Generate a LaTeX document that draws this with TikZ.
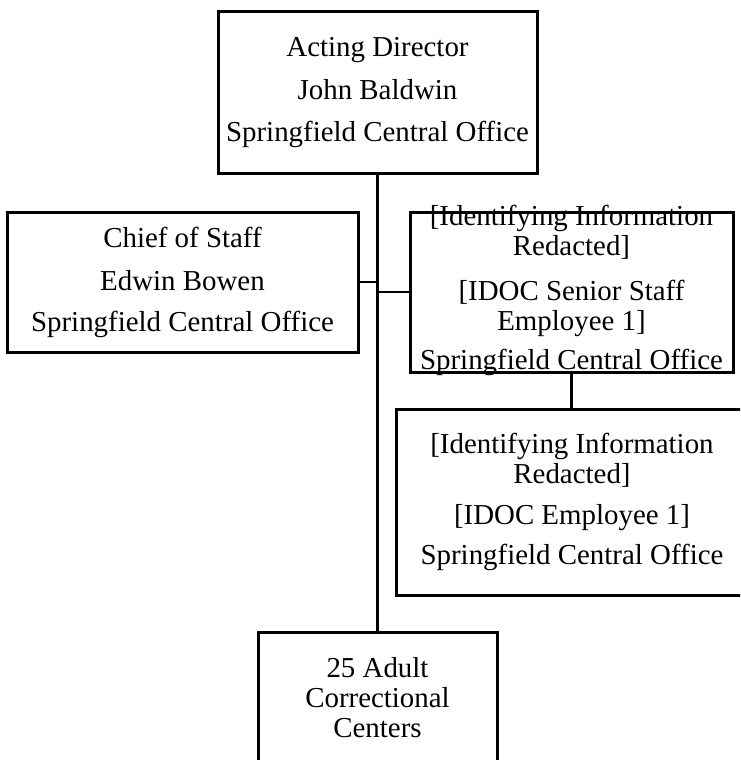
\documentclass[tikz,border=0pt]{standalone}
\usepackage{fontspec}
\setmainfont{Liberation Serif}
\usetikzlibrary{positioning}
\tikzset{
    orgbox/.style = {rectangle, line width=3pt, draw=black, align=center, inner sep=0pt, font=\fontsize{28.9}{30}\selectfont, text=black},
    orgtext/.style = {align=center, inner sep=0pt, font=\fontsize{28.9}{30}\selectfont, text=black},
    edgen/.style = {-, line width=2.6pt, black}
}
\begin{document}
\begin{tikzpicture}[x=1pt, y=-1pt]
\useasboundingbox (0,0) rectangle (740,760);
\clip (0,0) rectangle (740,760);
\node[orgbox, minimum width=319pt, minimum height=161pt] at (377.5, 92.5) (director) {Acting Director\\[13pt] John Baldwin\\[12pt] Springfield Central Office};
\node[orgbox, minimum width=351pt, minimum height=140pt] at (182.5, 282.0) (chief) {Chief of Staff\\[13pt] Edwin Bowen\\[11pt] Springfield Central Office};
\node[orgbox, minimum width=323pt, minimum height=160pt] at (571.5, 292.0) (senior) {};
\node[orgtext] at (571.5, 290.0) (seniortext) {[Identifying Information\\ Redacted]\\[15pt] [IDOC Senior Staff\\ Employee 1]\\[9pt] Springfield Central Office};
\node[orgbox, minimum width=352pt, minimum height=186pt] at (572.0, 502.0) (employee) {[Identifying Information\\ Redacted]\\[11pt] [IDOC Employee 1]\\[10pt] Springfield Central Office};
\node[orgbox, minimum width=239pt, minimum height=132pt] at (377.5, 698.0) (centers) {25 Adult\\ Correctional\\ Centers};
\coordinate (jchief) at (director.south |- chief.east);
\coordinate (jsenior) at (director.south |- senior.west);
%
\draw[edgen] (director) edge (centers);
\draw[edgen] (chief) edge (jchief);
\draw[edgen] (jsenior) edge (senior);
\draw[edgen] (senior.south) edge (senior.south |- employee.north);
\end{tikzpicture}
\end{document}
